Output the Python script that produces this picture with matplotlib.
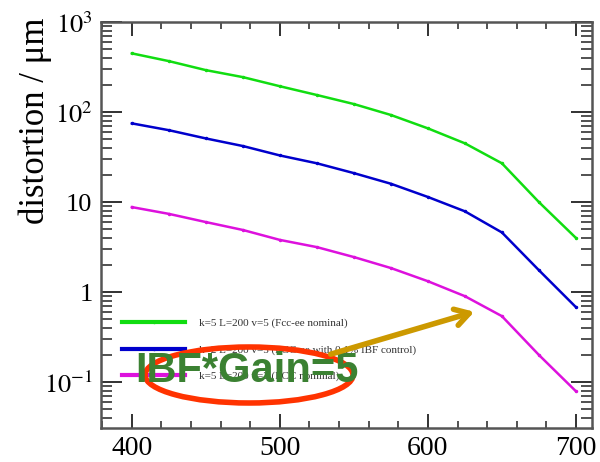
import numpy as np
import matplotlib
matplotlib.use("Agg")
import matplotlib.pyplot as plt
from matplotlib.patches import Ellipse, FancyArrowPatch
from matplotlib.ticker import FixedLocator, FixedFormatter, MultipleLocator

plt.rcParams['font.family'] = ['Liberation Serif', 'DejaVu Serif']
plt.rcParams['mathtext.fontset'] = 'stix'

# data
voltage = [400, 425, 450, 475, 500, 525, 550, 575, 600, 625, 650, 675, 700]
nominal = [450, 369, 293, 245, 194, 155, 123, 93, 66, 45, 27, 10, 4.0]
ibf_ctrl = [75, 63, 51, 42, 33, 27, 21, 16, 11.4, 7.9, 4.6, 1.75, 0.68]
low_gain = [8.8, 7.4, 6.0, 4.9, 3.8, 3.16, 2.45, 1.85, 1.32, 0.9, 0.54, 0.2, 0.079]

labels = ["k=5 L=200 v=5 (Fcc-ee nominal)",
          "k=2 L=200 v=5 (FCC-ee with 0.1% IBF control)",
          "k=5 L=200 v=2 (FCC nominal)"]
colors = ["#11dd11", "#0000cc", "#dd11dd"]

ytick_vals = [0.1, 1, 10, 100, 1000]
ytick_text = [r"$10^{-1}$", "1", "10", r"$10^{2}$", r"$10^{3}$"]

fig = plt.figure(figsize=(6, 4.62), dpi=100)
ax = fig.add_axes([0.168, 0.074, 0.819, 0.878])

for ys, c, lab in zip([nominal, ibf_ctrl, low_gain], colors, labels):
    ax.plot(voltage, ys, color=c, lw=1.8, marker='.', ms=3, label=lab)

ax.set_yscale('log')
ax.set_xlim(379, 711)
ax.set_ylim(0.031, 1000)
ax.xaxis.set_major_locator(FixedLocator([400, 500, 600, 700]))
ax.xaxis.set_minor_locator(MultipleLocator(20))
ax.yaxis.set_major_locator(FixedLocator(ytick_vals))
ax.yaxis.set_major_formatter(FixedFormatter(ytick_text))

for s in ax.spines.values():
    s.set_color('#555555')
    s.set_linewidth(1.8)
ax.tick_params(which='both', direction='in', top=True, right=True,
               color='#222222', labelsize=19, pad=6)
ax.tick_params(axis='x', which='major', length=10, width=1.3,
               labelsize=20, pad=6)
ax.tick_params(axis='x', which='minor', length=5, width=1.1)
ax.tick_params(axis='y', which='major', length=15, width=1.3)
ax.tick_params(axis='y', which='minor', length=8, width=1.1)
ax.set_ylabel("distortion / μm", fontsize=25)
ax.yaxis.set_label_coords(-0.1, 0.756)

leg = ax.legend(loc='upper left', bbox_to_anchor=(122 / 600, 1 - 318 / 462),
                bbox_transform=fig.transFigure, frameon=False, fontsize=8,
                handlelength=5.7, handletextpad=1.2, labelspacing=1.5,
                borderpad=0, borderaxespad=0)
for line in leg.get_lines():
    line.set_linewidth(3)
for t in leg.get_texts():
    t.set_color('#333333')

# overlay annotations
fig.patches.append(Ellipse((249 / 600, 1 - 375 / 462), 208 / 600, 56 / 462,
                           transform=fig.transFigure, fill=False,
                           edgecolor='#ff3300', lw=4, zorder=5))
fig.text(247 / 600, 1 - 371 / 462, "IBF*Gain=5", family='Liberation Sans',
         weight='bold', fontsize=30, color='#3b8132', ha='center',
         va='center', zorder=6)
fig.add_artist(FancyArrowPatch(
    (328 / 600, 1 - 355 / 462), (477 / 600, 1 - 311 / 462),
    transform=fig.transFigure, arrowstyle='->,head_length=10,head_width=6',
    color='#cc9900', lw=4, zorder=7))

fig.savefig("out.png", dpi=100)
